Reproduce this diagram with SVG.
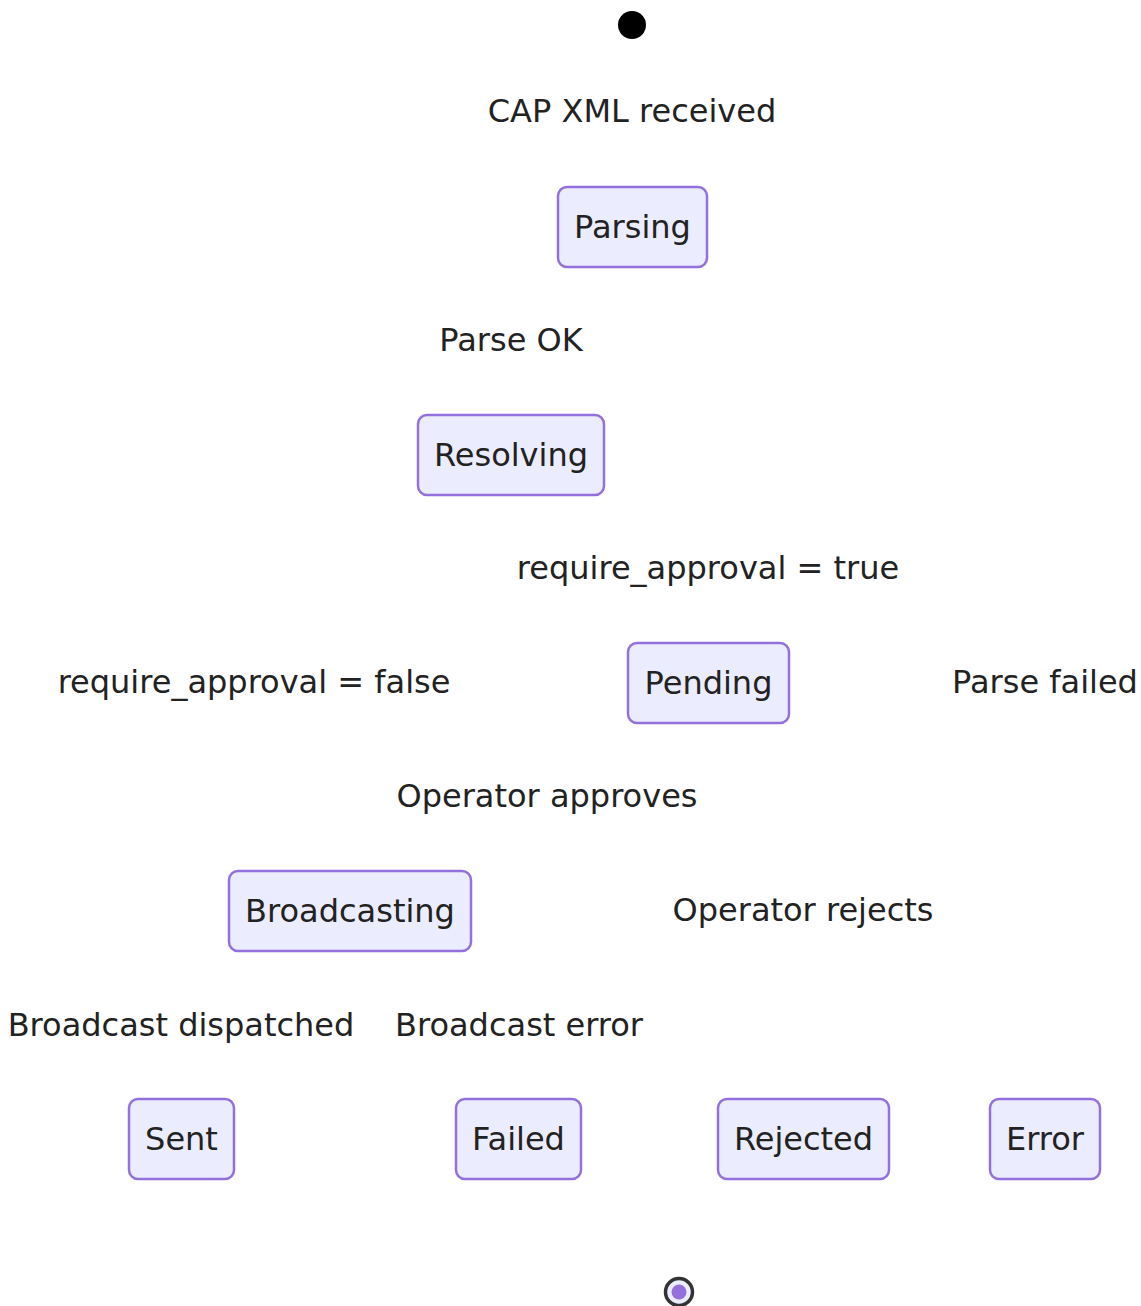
<svg xmlns="http://www.w3.org/2000/svg" width="1141" height="1306" viewBox="0 0 1141 1306">
<style>
.node rect{fill:#ECECFF;stroke:#9370DB;stroke-width:2.5}
text{font-family:"DejaVu Sans",sans-serif;font-size:32px;fill:#222;text-anchor:middle;dominant-baseline:central}
</style>
<rect width="1141" height="1306" fill="#ffffff"/>
<g id="edges">
<g id="edge-labels">
<text x="632" y="111">CAP XML received</text>
<text x="511" y="340">Parse OK</text>
<text x="708" y="568">require_approval = true</text>
<text x="254" y="682">require_approval = false</text>
<text x="1045" y="682">Parse failed</text>
<text x="547" y="796">Operator approves</text>
<text x="803" y="910">Operator rejects</text>
<text x="181" y="1025">Broadcast dispatched</text>
<text x="519" y="1025">Broadcast error</text>
</g>
</g>
<g id="start"><circle cx="632" cy="25" r="14" fill="#000"/></g>
<g id="Parsing" class="node"><rect x="558" y="187" width="149" height="80" rx="9"/><text x="632.5" y="227">Parsing</text></g>
<g id="Resolving" class="node"><rect x="418" y="415" width="186" height="80" rx="9"/><text x="511" y="455">Resolving</text></g>
<g id="Pending" class="node"><rect x="628" y="643" width="161" height="80" rx="9"/><text x="708.5" y="683">Pending</text></g>
<g id="Broadcasting" class="node"><rect x="229" y="871" width="242" height="80" rx="9"/><text x="350" y="911">Broadcasting</text></g>
<g id="Sent" class="node"><rect x="129" y="1099" width="105" height="80" rx="9"/><text x="181.5" y="1139">Sent</text></g>
<g id="Failed" class="node"><rect x="456" y="1099" width="125" height="80" rx="9"/><text x="518.5" y="1139">Failed</text></g>
<g id="Rejected" class="node"><rect x="718" y="1099" width="171" height="80" rx="9"/><text x="803.5" y="1139">Rejected</text></g>
<g id="Error" class="node"><rect x="990" y="1099" width="110" height="80" rx="9"/><text x="1045" y="1139">Error</text></g>
<g id="end"><circle cx="679" cy="1292" r="13.5" fill="#ECECFF" stroke="#333" stroke-width="3.5"/><circle cx="679" cy="1292" r="7.5" fill="#9370DB"/></g>
</svg>
